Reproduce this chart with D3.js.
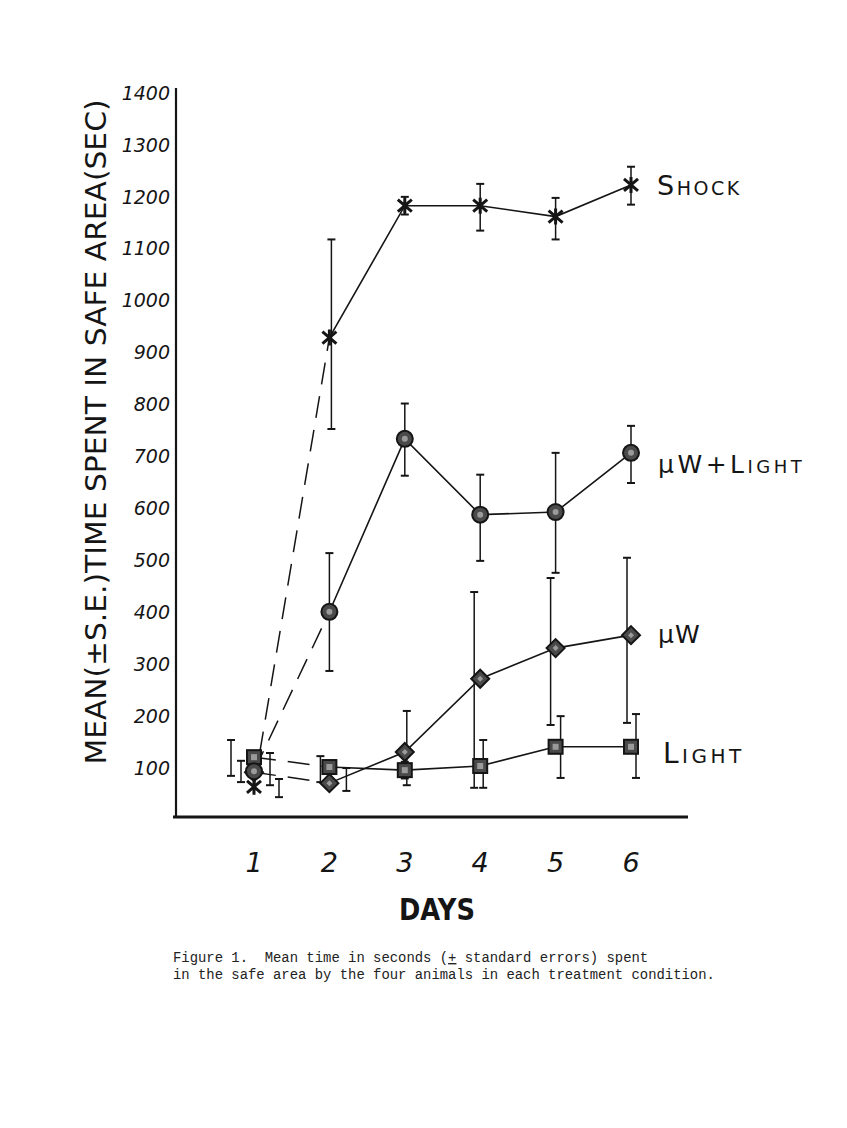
<!DOCTYPE html>
<html>
<head>
<meta charset="utf-8">
<script src="https://cdn.jsdelivr.net/npm/d3@7/dist/d3.min.js"></script>
<style>
  html, body { margin: 0; padding: 0; background: #fff; }
  svg { display: block; }
  .cap text { white-space: pre; }
</style>
</head>
<body>
<svg id="chart" width="847" height="1128"></svg>
<script>
// ---------- DATA ----------
const days = [1, 2, 3, 4, 5, 6];
const yTicks = [100, 200, 300, 400, 500, 600, 700, 800, 900, 1000, 1100, 1200, 1300, 1400];

const seriesNames = ["Shock", "µW+Light", "µW", "Light"];

const shockMean = [64, 929, 1183, 1183, 1162, 1223];
const shockLo   = [44, 753, 1166, 1135, 1118, 1185];
const shockHi   = [79, 1118, 1200, 1225, 1198, 1258];

const mwLightMean = [94, 401, 734, 588, 593, 707];
const mwLightLo   = [73, 287, 663, 499, 476, 649];
const mwLightHi   = [114, 514, 802, 665, 707, 759];

const mwMean = [92, 71, 131, 272, 331, 356];
const mwLo   = [67, 56, 67, 62, 183, 187];
const mwHi   = [129, 100, 210, 439, 466, 505];

const lightMean = [121, 102, 96, 104, 141, 141];
const lightLo   = [85, 73, 80, 62, 81, 81];
const lightHi   = [154, 123, 112, 154, 200, 204];

const yTitle = "MEAN(\u00B1S.E.)TIME SPENT IN SAFE AREA(SEC)";
const xTitle = "DAYS";
const caption1a = "Figure 1.  Mean time in seconds (";
const caption1b = "+";
const caption1c = " standard errors) spent";
const caption2 = "in the safe area by the four animals in each treatment condition.";

// ---------- STYLE (offsets of the hand drawn error bars) ----------
const style = {
  "Shock":    { marker: "cross",   errDx: [25, 2, 0, 0, 0, 0] },
  "µW+Light": { marker: "circle",  errDx: [-13, 0, 0, 0, 0, 0] },
  "µW":       { marker: "diamond", errDx: [16, 17, 2, -6, -5, -4] },
  "Light":    { marker: "square",  errDx: [-23, -9, 0, 3, 5, 5] }
};

const series = [
  { name: "µW",       mean: mwMean,      lo: mwLo,      hi: mwHi },
  { name: "Light",    mean: lightMean,   lo: lightLo,   hi: lightHi },
  { name: "µW+Light", mean: mwLightMean, lo: mwLightLo, hi: mwLightHi },
  { name: "Shock",    mean: shockMean,   lo: shockLo,   hi: shockHi }
];

// ---------- SCALES ----------
const svg = d3.select("#chart");
const x = d3.scaleLinear().domain([1, 6]).range([254, 631]);
const y = d3.scaleLinear().domain([0, 1400]).range([820, 93]);

const ink = "#151515";
const hand = "'DejaVu Sans', 'Liberation Sans', sans-serif";

// axes lines
svg.append("line").attr("x1", 176).attr("x2", 176).attr("y1", 88).attr("y2", 818)
  .attr("stroke", ink).attr("stroke-width", 2.2);
svg.append("line").attr("x1", 173).attr("x2", 688).attr("y1", 817).attr("y2", 817)
  .attr("stroke", ink).attr("stroke-width", 2.8);

// y tick labels
svg.append("g").selectAll("text").data(yTicks).join("text")
  .attr("x", 170).attr("y", d => y(d)).attr("dy", "0.35em")
  .attr("text-anchor", "end")
  .attr("font-family", hand).attr("font-style", "italic")
  .attr("font-size", 19).attr("fill", ink)
  .text(d => d);

// x tick labels
svg.append("g").selectAll("text").data(days).join("text")
  .attr("x", d => x(d)).attr("y", 863).attr("dy", "0.35em")
  .attr("text-anchor", "middle")
  .attr("font-family", hand).attr("font-style", "italic")
  .attr("font-size", 27).attr("fill", ink)
  .text(d => d);

// x title
svg.append("text").attr("x", 437).attr("y", 920)
  .attr("text-anchor", "middle")
  .attr("font-family", hand).attr("font-weight", "bold")
  .attr("font-size", 30).attr("fill", ink)
  .attr("textLength", 76).attr("lengthAdjust", "spacingAndGlyphs")
  .text(xTitle);

// y title
svg.append("text")
  .attr("transform", "translate(106,432) rotate(-90)")
  .attr("text-anchor", "middle")
  .attr("font-family", hand)
  .attr("font-size", 29).attr("fill", ink)
  .attr("textLength", 665).attr("lengthAdjust", "spacingAndGlyphs")
  .text(yTitle);

// caption
const cap = svg.append("g").attr("class", "cap")
  .attr("font-family", "'Liberation Mono', 'DejaVu Sans Mono', monospace")
  .attr("font-size", 13.9).attr("fill", "#222");
const c1 = cap.append("text").attr("x", 173).attr("y", 962);
c1.append("tspan").text(caption1a);
c1.append("tspan").attr("text-decoration", "underline").text(caption1b);
c1.append("tspan").text(caption1c);
cap.append("text").attr("x", 173).attr("y", 979).text(caption2);

// ---------- LINES ----------
const lineGen = d3.line().x(d => x(d.day)).y(d => y(d.v));
const gLines = svg.append("g");
series.forEach(s => {
  const pts = days.map((d, i) => ({ day: d, v: s.mean[i] }));
  gLines.append("path").datum(pts.slice(0, 2))
    .attr("d", lineGen).attr("fill", "none")
    .attr("stroke", ink).attr("stroke-width", 1.5)
    .attr("stroke-dasharray", "22,12");
  gLines.append("path").datum(pts.slice(1))
    .attr("d", lineGen).attr("fill", "none")
    .attr("stroke", ink).attr("stroke-width", 1.6);
});

// ---------- ERROR BARS ----------
const gErr = svg.append("g").attr("stroke", ink).attr("stroke-width", 1.5);
series.forEach(s => {
  const st = style[s.name];
  days.forEach((d, i) => {
    const cx = x(d) + st.errDx[i];
    gErr.append("line").attr("x1", cx).attr("x2", cx)
      .attr("y1", y(s.lo[i])).attr("y2", y(s.hi[i]));
    [s.lo[i], s.hi[i]].forEach(v => {
      gErr.append("line").attr("x1", cx - 4).attr("x2", cx + 4)
        .attr("y1", y(v)).attr("y2", y(v)).attr("stroke-width", 2);
    });
  });
});

// ---------- MARKERS ----------
const gMk = svg.append("g");
series.forEach(s => {
  const st = style[s.name];
  days.forEach((d, i) => {
    const g = gMk.append("g").attr("transform", `translate(${x(d)},${y(s.mean[i])})`);
    if (st.marker === "cross") {
      g.append("path").attr("d", "M-7,-6L7,6M-7,6L7,-6M0,-8L0,8")
        .attr("stroke", ink).attr("stroke-width", 3).attr("fill", "none");
    } else if (st.marker === "circle") {
      g.append("circle").attr("r", 8).attr("fill", "#4a4a4a").attr("stroke", ink).attr("stroke-width", 2);
      g.append("circle").attr("r", 3).attr("fill", "#9a9a9a");
    } else if (st.marker === "diamond") {
      g.append("path").attr("d", "M0,-9L9,0L0,9L-9,0Z")
        .attr("fill", "#4a4a4a").attr("stroke", ink).attr("stroke-width", 2);
      g.append("path").attr("d", "M0,-3L3,0L0,3L-3,0Z").attr("fill", "#9a9a9a");
    } else if (st.marker === "square") {
      g.append("rect").attr("x", -7).attr("y", -7).attr("width", 14).attr("height", 14)
        .attr("fill", "#4a4a4a").attr("stroke", ink).attr("stroke-width", 2);
      g.append("rect").attr("x", -3).attr("y", -3).attr("width", 6).attr("height", 6).attr("fill", "#9a9a9a");
    }
  });
});

// ---------- SERIES LABELS ----------
const labels = [
  { parts: [["S", 27], ["HOCK", 19]], x: 657, y: 195, ls: 2.5 },
  { parts: [["\u00B5W+L", 25], ["IGHT", 18]], x: 658, y: 473, ls: 3.5 },
  { parts: [["\u00B5W", 25]], x: 658, y: 643, ls: 1 },
  { parts: [["L", 28], ["IGHT", 20]], x: 663, y: 763, ls: 3.5 }
];
labels.forEach(l => {
  const t = svg.append("text").attr("x", l.x).attr("y", l.y)
    .attr("font-family", hand).attr("fill", ink)
    .attr("letter-spacing", l.ls);
  l.parts.forEach(p => t.append("tspan").attr("font-size", p[1]).text(p[0]));
});
</script>
</body>
</html>
